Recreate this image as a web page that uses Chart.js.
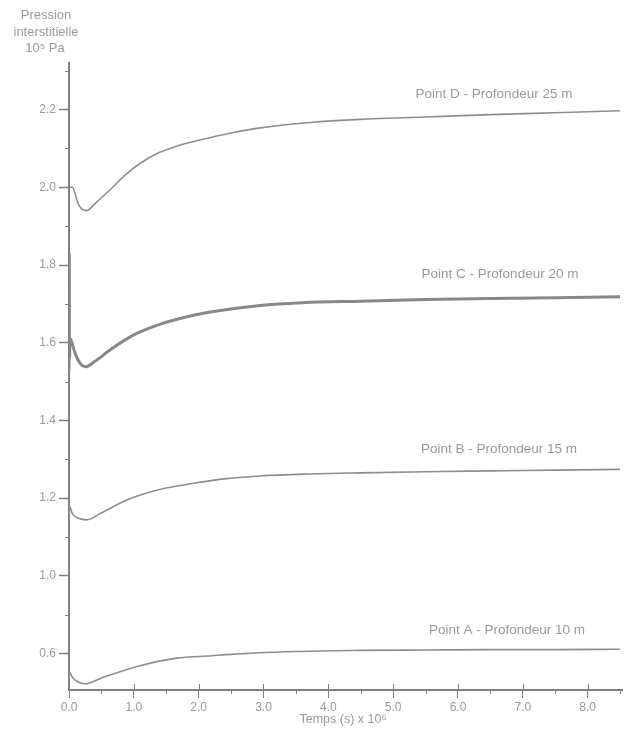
<!DOCTYPE html>
<html lang="fr">
<head>
<meta charset="utf-8">
<title>Pression interstitielle</title>
<script src="https://cdn.jsdelivr.net/npm/chart.js@4/dist/chart.umd.min.js"></script>
<style>
  body { margin: 0; background: #fff; }
  #boite { width: 630px; height: 737px; position: relative; }
</style>
</head>
<body>
<div id="boite"><canvas id="grafik"></canvas></div>
<script>
// valeurs (temps en 10^6 s, pression en 10^5 Pa)
const tempsA = [0, 0.01, 0.06, 0.15, 0.25, 0.5, 1.04, 1.66, 2.2, 2.43, 3.46, 4.49, 5.5, 6.5, 7.5, 8.5];
const pressionA = [0.73, 0.75, 0.737, 0.726, 0.722, 0.737, 0.766, 0.788, 0.794, 0.797, 0.805, 0.808, 0.809, 0.81, 0.81, 0.811];

const tempsB = [0, 0.01, 0.05, 0.15, 0.27, 0.5, 0.89, 1.4, 1.92, 2.43, 2.95, 3.7, 4.49, 5.5, 6.5, 7.5, 8.5];
const pressionB = [1.15, 1.178, 1.16, 1.148, 1.144, 1.162, 1.195, 1.222, 1.238, 1.25, 1.257, 1.262, 1.265, 1.268, 1.27, 1.272, 1.274];

const tempsC = [0, 0.004, 0.008, 0.015, 0.03, 0.1, 0.18, 0.25, 0.4, 0.63, 1.0, 1.4, 1.8, 2.18, 2.95, 3.6, 4.49, 5.5, 6.5, 7.5, 8.5];
const pressionC = [1.53, 1.83, 1.56, 1.61, 1.607, 1.57, 1.545, 1.538, 1.552, 1.581, 1.62, 1.647, 1.666, 1.679, 1.696, 1.703, 1.707, 1.711, 1.714, 1.716, 1.718];

const tempsD = [0, 0.05, 0.15, 0.27, 0.4, 0.63, 0.89, 1.1, 1.4, 1.7, 2.02, 2.5, 2.95, 3.72, 4.49, 5.5, 6.5, 7.5, 8.5];
const pressionD = [2.0, 2.0, 1.954, 1.94, 1.958, 1.993, 2.035, 2.062, 2.09, 2.108, 2.122, 2.14, 2.153, 2.167, 2.175, 2.181, 2.187, 2.192, 2.197];

const nomsPoints = [
  'Point A - Profondeur 10 m',
  'Point B - Profondeur 15 m',
  'Point C - Profondeur 20 m',
  'Point D - Profondeur 25 m'
];

const graduationsX = [0, 1, 2, 3, 4, 5, 6, 7, 8];
const etiquettesX = ['0.0', '1.0', '2.0', '3.0', '4.0', '5.0', '6.0', '7.0', '8.0'];
const graduationsY = [0.8, 1.0, 1.2, 1.4, 1.6, 1.8, 2.0, 2.2];
const etiquettesY = ['0.6', '1.0', '1.2', '1.4', '1.6', '1.8', '2.0', '2.2'];
const petitesGradX = [0.5, 1.5, 2.5, 3.5, 4.5, 5.5, 6.5, 7.5, 8.5];
const petitesGradY = [0.9, 1.1, 1.3, 1.5, 1.7, 1.9, 2.1, 2.3];

const GRIS_TEXTE = '#9a9a9a';
const GRIS_AXE = '#808080';
const POLICE = '"Liberation Sans", Arial, sans-serif';

function versPoints(temps, valeurs) {
  return temps.map((t, i) => ({ x: t, y: valeurs[i] }));
}

function serie(label, temps, valeurs, epaisseur, couleur) {
  return {
    label,
    data: versPoints(temps, valeurs),
    borderColor: couleur,
    borderWidth: epaisseur,
    pointRadius: 0,
    cubicInterpolationMode: 'monotone',
    fill: false
  };
}

// textes et petites graduations
const textesPlugin = {
  id: 'textes',
  afterDraw(chart) {
    const c = chart.ctx;
    const sx = chart.scales.x;
    const sy = chart.scales.y;
    const bas = chart.chartArea.bottom;
    const gauche = chart.chartArea.left;

    c.save();
    c.strokeStyle = GRIS_AXE;
    c.lineWidth = 1;
    petitesGradX.forEach(v => {
      const px = Math.round(sx.getPixelForValue(v)) + 0.5;
      c.beginPath();
      c.moveTo(px, bas);
      c.lineTo(px, bas + 4);
      c.stroke();
    });
    graduationsX.forEach(v => {
      const px = Math.round(sx.getPixelForValue(v)) + 0.5;
      c.beginPath();
      c.moveTo(px, bas);
      c.lineTo(px, bas - 6);
      c.stroke();
    });
    petitesGradY.forEach(v => {
      const py = Math.round(sy.getPixelForValue(v)) + 0.5;
      c.beginPath();
      c.moveTo(gauche - 4, py);
      c.lineTo(gauche, py);
      c.stroke();
    });

    c.fillStyle = GRIS_TEXTE;
    c.font = '13px ' + POLICE;
    c.textAlign = 'center';
    c.textBaseline = 'middle';
    c.fillText('Pression', 46, 15);
    c.fillText('interstitielle', 46, 32);
    c.fillText('10\u2075 Pa', 45, 48);
    c.font = '12.5px ' + POLICE;
    c.fillText('Temps (s) x 10\u2076', 343, 720);

    c.font = '13.5px ' + POLICE;
    const positions = [[507, 630], [499, 449], [500, 274], [494, 94]];
    nomsPoints.forEach((nom, i) => {
      c.fillText(nom, positions[i][0], positions[i][1]);
    });
    c.restore();
  }
};

const ctx = document.getElementById('grafik').getContext('2d');

new Chart(ctx, {
  type: 'line',
  data: {
    datasets: [
      serie(nomsPoints[0], tempsA, pressionA, 1.6, '#8e8e8e'),
      serie(nomsPoints[1], tempsB, pressionB, 1.6, '#8e8e8e'),
      serie(nomsPoints[2], tempsC, pressionC, 3, '#888888'),
      serie(nomsPoints[3], tempsD, pressionD, 1.6, '#8e8e8e')
    ]
  },
  options: {
    responsive: true,
    maintainAspectRatio: false,
    animation: false,
    layout: { padding: { top: 63, right: 8, bottom: 0, left: 0 } },
    plugins: {
      legend: { display: false },
      tooltip: { enabled: false }
    },
    scales: {
      x: {
        type: 'linear',
        min: 0,
        max: 8.53,
        afterBuildTicks: scale => {
          scale.ticks = graduationsX.map(v => ({ value: v }));
        },
        afterFit: scale => { scale.height = 47; },
        ticks: {
          autoSkip: false,
          maxRotation: 0,
          padding: 2,
          color: GRIS_TEXTE,
          font: { size: 12, family: POLICE },
          callback: v => {
            const i = graduationsX.findIndex(g => Math.abs(g - v) < 1e-6);
            return i >= 0 ? etiquettesX[i] : '';
          }
        },
        grid: {
          drawOnChartArea: false,
          tickLength: 8,
          tickColor: GRIS_AXE,
          tickWidth: 1
        },
        border: { color: GRIS_AXE, width: 2 }
      },
      y: {
        type: 'linear',
        min: 0.706,
        max: 2.32,
        afterBuildTicks: scale => {
          scale.ticks = graduationsY.map(v => ({ value: v }));
        },
        afterFit: scale => { scale.width = 69; },
        ticks: {
          autoSkip: false,
          padding: 3,
          color: GRIS_TEXTE,
          font: { size: 12, family: POLICE },
          callback: v => {
            const i = graduationsY.findIndex(g => Math.abs(g - v) < 1e-6);
            return i >= 0 ? etiquettesY[i] : '';
          }
        },
        grid: {
          drawOnChartArea: false,
          tickLength: 10,
          tickColor: GRIS_AXE,
          tickWidth: 1.5
        },
        border: { color: GRIS_AXE, width: 2 }
      }
    }
  },
  plugins: [textesPlugin]
});
</script>
</body>
</html>
